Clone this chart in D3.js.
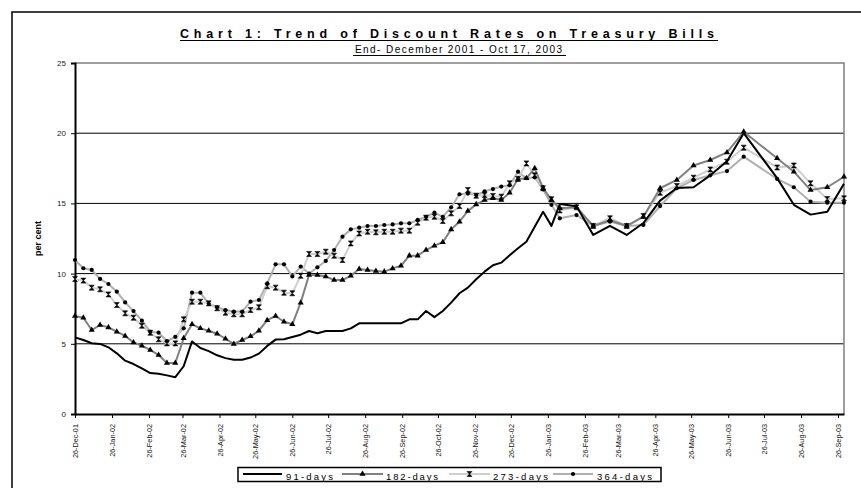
<!DOCTYPE html>
<html>
<head>
<meta charset="utf-8">
<script src="https://cdn.jsdelivr.net/npm/d3@7"></script>
<style>
  body { margin: 0; background: #fff; }
  svg { display: block; font-family: Arial, "Liberation Sans", sans-serif; }
</style>
</head>
<body>
<div id="chart"></div>
<script>
// Auction dates (weekly in 2002, fortnightly from Feb 2003)
let dates = [
  '2001-12-26',
  '2002-01-02','2002-01-09','2002-01-16','2002-01-23','2002-01-30',
  '2002-02-06','2002-02-13','2002-02-20','2002-02-27',
  '2002-03-06','2002-03-13','2002-03-20','2002-03-27',
  '2002-04-03','2002-04-10','2002-04-17','2002-04-24',
  '2002-05-01','2002-05-08','2002-05-15','2002-05-22','2002-05-29',
  '2002-06-05','2002-06-12','2002-06-19','2002-06-26',
  '2002-07-03','2002-07-10','2002-07-17','2002-07-24','2002-07-31',
  '2002-08-07','2002-08-14','2002-08-21','2002-08-28',
  '2002-09-04','2002-09-11','2002-09-18','2002-09-25',
  '2002-10-02','2002-10-09','2002-10-16','2002-10-23','2002-10-30',
  '2002-11-06','2002-11-13','2002-11-20','2002-11-27',
  '2002-12-04','2002-12-11','2002-12-18','2002-12-25',
  '2003-01-01','2003-01-08','2003-01-15','2003-01-22','2003-01-29',
  '2003-02-05','2003-02-19','2003-03-05','2003-03-19',
  '2003-04-02','2003-04-16','2003-04-30','2003-05-14','2003-05-28',
  '2003-06-11','2003-06-25','2003-07-09','2003-08-06','2003-08-20',
  '2003-09-03','2003-09-17','2003-10-01'
];

let days91 = [
  5.46,5.27,5.04,4.99,4.75,4.32,3.80,3.56,3.25,2.92,
  2.87,2.75,2.62,3.40,5.17,4.70,4.48,4.18,3.98,3.87,
  3.86,4.02,4.30,4.85,5.30,5.32,5.48,5.65,5.91,5.75,
  5.91,5.91,5.91,6.10,6.46,6.46,6.46,6.46,6.46,6.46,
  6.74,6.74,7.34,6.90,7.34,7.93,8.60,9.00,9.60,10.14,
  10.60,10.78,11.30,11.80,12.27,13.34,14.40,13.40,14.95,
  14.80,12.75,13.40,12.75,13.60,15.20,16.10,16.15,17.00,18.00,
  20.00,16.80,14.90,14.20,14.40,16.40
];

let days182 = [
  6.98,6.86,5.98,6.34,6.17,5.86,5.56,5.10,4.86,4.56,
  4.20,3.63,3.63,5.39,6.39,6.10,5.93,5.72,5.36,4.99,
  5.27,5.53,5.93,6.68,6.98,6.57,6.39,7.93,9.90,9.90,
  9.80,9.54,9.54,9.85,10.33,10.26,10.18,10.14,10.37,10.56,
  11.28,11.28,11.68,11.99,12.23,13.15,13.70,14.46,14.93,15.24,
  15.36,15.24,15.76,16.74,16.79,17.50,16.08,15.24,14.65,
  14.72,13.39,13.80,13.39,14.05,16.08,16.67,17.70,18.09,18.63,
  20.10,18.21,17.26,15.95,16.15,16.90
];

let days273 = [
  9.62,9.50,9.00,8.88,8.52,7.76,7.17,6.86,6.29,5.79,
  5.32,5.03,5.03,6.74,8.00,8.00,7.88,7.53,7.22,7.10,
  7.10,7.41,7.60,9.10,9.00,8.64,8.60,9.85,11.40,11.40,
  11.56,11.28,10.97,12.15,12.86,12.98,12.94,12.98,12.98,13.06,
  13.06,13.63,13.98,14.05,13.75,14.29,14.81,15.95,15.55,15.60,
  15.53,15.48,16.43,16.74,17.85,17.00,16.08,15.30,14.50,
  14.72,13.39,13.94,13.39,14.10,15.76,16.24,16.83,17.42,17.97,
  18.97,17.56,17.70,16.43,15.31,15.36
];

let days364 = [
  10.97,10.38,10.26,9.62,9.26,8.71,7.95,7.33,6.65,5.86,
  5.79,5.20,5.50,6.10,8.64,8.64,7.85,7.60,7.40,7.30,
  7.30,8.00,8.12,9.30,10.66,10.66,9.80,10.50,10.00,10.45,
  10.90,11.68,12.63,13.15,13.27,13.39,13.39,13.46,13.50,13.58,
  13.58,13.82,14.05,14.34,14.05,14.72,15.65,15.70,15.60,15.86,
  16.02,16.20,16.30,17.26,16.79,16.86,16.00,14.90,13.94,
  14.17,13.39,13.70,13.39,13.46,14.81,16.08,16.67,17.00,17.30,
  18.33,16.74,16.15,15.12,15.05,15.05
];

let seriesNames = ['91-days', '182-days', '273-days', '364-days'];
let xTickLabels = [
  '26-Dec-01','26-Jan-02','26-Feb-02','26-Mar-02','26-Apr-02','26-May-02',
  '26-Jun-02','26-Jul-02','26-Aug-02','26-Sep-02','26-Oct-02','26-Nov-02',
  '26-Dec-02','26-Jan-03','26-Feb-03','26-Mar-03','26-Apr-03','26-May-03',
  '26-Jun-03','26-Jul-03','26-Aug-03','26-Sep-03'
];
let yTicks = [0, 5, 10, 15, 20, 25];

let parseDate = d3.utcParse('%Y-%m-%d');
let parseTick = d3.utcParse('%d-%b-%y');
let formatTick = d3.utcFormat('%d-%b-%y');

let width = 861, height = 488;
let plot = {left: 75, right: 844, top: 63, bottom: 414};

let svg = d3.select('#chart').append('svg')
  .attr('width', width)
  .attr('height', height);

// Outer chart border (runs off the right / bottom edge)
svg.append('rect')
  .attr('x', 12).attr('y', 12)
  .attr('width', 880).attr('height', 500)
  .attr('fill', 'none')
  .attr('stroke', '#000')
  .attr('stroke-width', 1.5);

let x = d3.scaleUtc()
  .domain([parseDate('2001-12-26'), parseDate('2003-10-01')])
  .range([plot.left, plot.right]);

let y = d3.scaleLinear()
  .domain([0, 25])
  .range([plot.bottom, plot.top]);

// Gridlines
svg.append('g')
  .selectAll('line')
  .data(yTicks.filter(d => d > 0 && d < 25))
  .enter().append('line')
  .attr('x1', plot.left).attr('x2', plot.right)
  .attr('y1', d => y(d)).attr('y2', d => y(d))
  .attr('stroke', '#000')
  .attr('stroke-width', 1);

// Plot area border (grey top / right)
svg.append('path')
  .attr('d', 'M' + plot.left + ',' + y(25) + 'H' + plot.right + 'V' + plot.bottom)
  .attr('fill', 'none')
  .attr('stroke', '#808080')
  .attr('stroke-width', 1.5);

// Y axis
let yAxis = svg.append('g')
  .attr('transform', 'translate(' + plot.left + ',0)')
  .call(d3.axisLeft(y).tickValues(yTicks).tickSize(4).tickPadding(5));
yAxis.select('.domain').attr('stroke', '#000').attr('stroke-width', 2);
yAxis.selectAll('.tick line').attr('stroke', '#000');
yAxis.selectAll('.tick text')
  .attr('font-size', '8px')
  .attr('fill', '#222')
  .attr('font-family', 'Arial, "Liberation Sans", sans-serif');

// X axis
let xAxis = svg.append('g')
  .attr('transform', 'translate(0,' + plot.bottom + ')')
  .call(d3.axisBottom(x)
    .tickValues(xTickLabels.map(parseTick))
    .tickFormat(formatTick)
    .tickSize(4)
    .tickSizeOuter(0));
xAxis.select('.domain').attr('stroke', '#000').attr('stroke-width', 2);
xAxis.selectAll('.tick line').attr('stroke', '#000');
xAxis.selectAll('.tick text')
  .attr('font-size', '7.3px')
  .attr('fill', '#111')
  .attr('font-family', 'Arial, "Liberation Sans", sans-serif')
  .attr('transform', 'rotate(-90)')
  .attr('x', -10)
  .attr('y', 0)
  .attr('dy', '0.35em')
  .style('text-anchor', 'end');

// Y axis title
svg.append('text')
  .attr('transform', 'translate(41,' + ((plot.top + plot.bottom) / 2) + ') rotate(-90)')
  .attr('text-anchor', 'middle')
  .attr('font-size', '9px')
  .attr('font-weight', 'bold')
  .text('per cent');

// Series
let rows = dates.map((d, i) => ({
  date: parseDate(d),
  v91: days91[i], v182: days182[i], v273: days273[i], v364: days364[i]
}));

let seriesStyle = [
  {key: 'v91',  color: '#000',    width: 2, marker: 'none'},
  {key: 'v182', color: '#808080', width: 2, marker: 'triangle'},
  {key: 'v273', color: '#cfcfcf', width: 2, marker: 'hourglass'},
  {key: 'v364', color: '#b0b0b0', width: 2, marker: 'dot'}
];

let hourglass = 'M-2.5,-2.5L2.5,-2.5L-2.5,2.5L2.5,2.5Z';
let triangle = d3.symbol(d3.symbolTriangle, 16)();

function drawMarker(g, type, cx, cy) {
  if (type === 'triangle') {
    g.append('path').attr('d', triangle)
      .attr('transform', 'translate(' + cx + ',' + cy + ')')
      .attr('fill', '#000');
  } else if (type === 'hourglass') {
    g.append('path').attr('d', hourglass)
      .attr('transform', 'translate(' + cx + ',' + cy + ')')
      .attr('fill', '#000').attr('stroke', '#000').attr('stroke-width', 0.6);
  } else if (type === 'dot') {
    g.append('circle').attr('cx', cx).attr('cy', cy).attr('r', 2.1)
      .attr('fill', '#000');
  }
}

// draw back to front: 364, 273, 182, 91
let drawOrder = [3, 2, 1, 0];
drawOrder.forEach(function(si) {
  let s = seriesStyle[si];
  let line = d3.line()
    .x(d => x(d.date))
    .y(d => y(d[s.key]));
  svg.append('path')
    .datum(rows)
    .attr('d', line)
    .attr('fill', 'none')
    .attr('stroke', s.color)
    .attr('stroke-width', s.width)
    .attr('stroke-linejoin', 'round');
});
drawOrder.forEach(function(si) {
  let s = seriesStyle[si];
  if (s.marker === 'none') return;
  let g = svg.append('g');
  rows.forEach(function(d) {
    drawMarker(g, s.marker, x(d.date), y(d[s.key]));
  });
});

// Title
svg.append('text')
  .attr('x', 180).attr('y', 37.5)
  .attr('font-size', '12.5px')
  .attr('font-weight', 'bold')
  .attr('textLength', 534)
  .attr('lengthAdjust', 'spacing')
  .text('Chart 1: Trend of Discount Rates on Treasury Bills');
svg.append('line')
  .attr('x1', 180).attr('x2', 718)
  .attr('y1', 40.5).attr('y2', 40.5)
  .attr('stroke', '#000').attr('stroke-width', 1.2);

svg.append('text')
  .attr('x', 355).attr('y', 52.5)
  .attr('font-size', '10px')
  .attr('textLength', 207)
  .attr('lengthAdjust', 'spacing')
  .text('End- December 2001 - Oct 17, 2003');
svg.append('line')
  .attr('x1', 353).attr('x2', 566)
  .attr('y1', 55.5).attr('y2', 55.5)
  .attr('stroke', '#000').attr('stroke-width', 1);

// Legend
let legend = svg.append('g');
legend.append('rect')
  .attr('x', 238).attr('y', 467.5)
  .attr('width', 423).attr('height', 14)
  .attr('fill', '#fff')
  .attr('stroke', '#000')
  .attr('stroke-width', 1.5);

let legendItems = [
  {x1: 243, x2: 282, tx: 286, tl: 47},
  {x1: 342, x2: 383, tx: 386, tl: 52},
  {x1: 449, x2: 490, tx: 493, tl: 55},
  {x1: 553, x2: 593, tx: 597, tl: 55}
];
legendItems.forEach(function(it, i) {
  let s = seriesStyle[i];
  legend.append('line')
    .attr('x1', it.x1).attr('x2', it.x2)
    .attr('y1', 474).attr('y2', 474)
    .attr('stroke', s.color).attr('stroke-width', 2);
  drawMarker(legend, s.marker, (it.x1 + it.x2) / 2, 474);
  legend.append('text')
    .attr('x', it.tx).attr('y', 480)
    .attr('font-size', '9.5px')
    .attr('textLength', it.tl)
    .attr('lengthAdjust', 'spacing')
    .text(seriesNames[i]);
});
</script>
</body>
</html>
